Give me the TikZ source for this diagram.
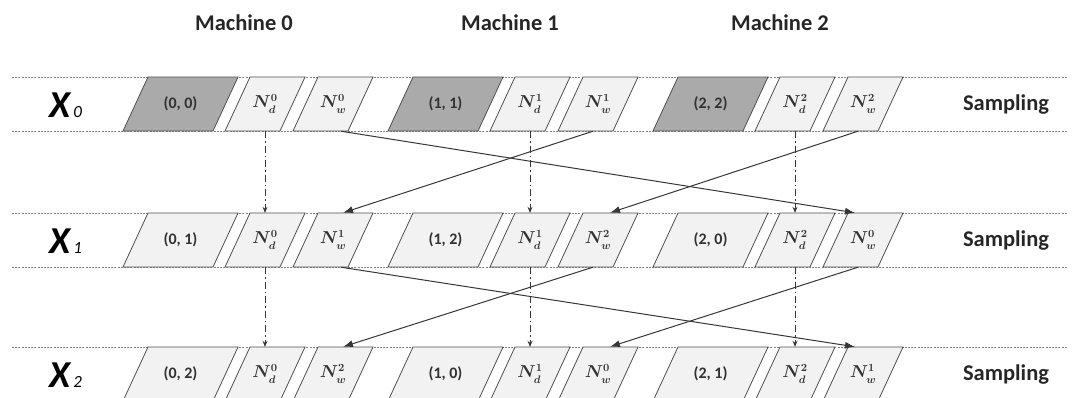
\documentclass[tikz,border=0pt]{standalone}
\usepackage{fontspec}
\setmainfont{Carlito}
\usetikzlibrary{arrows.meta}
\definecolor{darkfill}{RGB}{170,170,170}
\definecolor{lightfill}{RGB}{242,242,242}
\definecolor{edgecol}{RGB}{80,80,80}
\definecolor{txtcol}{RGB}{50,50,50}
\definecolor{arrcol}{RGB}{55,55,55}
\definecolor{guide}{RGB}{130,130,130}
\begin{document}
\begin{tikzpicture}[x=1pt,y=-1pt,
  pbox/.style={draw=none, minimum height=54pt, inner sep=0pt, text=txtcol,
    font=\fontsize{16}{16}\selectfont\bfseries\boldmath},
  guideline/.style={draw=guide, dash pattern=on 2pt off 1.2pt, line width=0.7pt},
  boxedge/.style={draw=edgecol, line width=0.8pt},
  swaparrow/.style={draw=arrcol, line width=1pt, -{Latex[length=10pt,width=7pt]}},
  keeparrow/.style={draw=arrcol, line width=0.9pt, dash pattern=on 7pt off 3pt on 1.5pt off 3pt,
    -{Stealth[length=6pt,width=5pt]}},
  headlabel/.style={anchor=base, font=\fontsize{22.5}{22.5}\selectfont\bfseries, text=black!85},
  rowlabel/.style={anchor=base west, text=black}
]
\useasboundingbox (0,0) rectangle (1072,397);

% machine headers
\node[headlabel] (h0) at (244,30) {Machine 0};
\node[headlabel] (h1) at (510,30) {Machine 1};
\node[headlabel] (h2) at (780,30) {Machine 2};

\foreach \r/\T in {0/77,1/213,2/347}{
  % band guide lines
  \draw[guideline] (12,\T) -- (1067,\T);
  \draw[guideline] (12,\T+54) -- (1067,\T+54);
  % row label and sampling
  \node[rowlabel] (x\r) at (46,\T+40)
    {\fontsize{38}{38}\selectfont\bfseries\itshape X\fontsize{17}{17}\selectfont\mdseries\itshape\,\r};
  \node[headlabel] (s\r) at (1006,\T+33) {Sampling};
  \foreach \m in {0,1,2}{
    \pgfmathsetmacro\B{123+265*\m}
    \pgfmathtruncatemacro\k{mod(\m+\r,3)}
    \ifnum\r=0 \def\fc{darkfill}\else\def\fc{lightfill}\fi
    % big box
    \draw[boxedge, fill=\fc] (\B,\T+54) -- (\B+90,\T+54) -- (\B+115,\T) -- (\B+25,\T) -- cycle;
    \node[pbox, minimum width=90pt] (a\r\m) at (\B+57.5,\T+27) {(\m, \k)};
    % N_d box
    \draw[boxedge, fill=lightfill] (\B+102,\T+54) -- (\B+157,\T+54) -- (\B+182,\T) -- (\B+127,\T) -- cycle;
    \node[pbox, minimum width=55pt] (d\r\m) at (\B+142,\T+27) {$N_d^{\m}$};
    % N_w box
    \draw[boxedge, fill=lightfill] (\B+170,\T+54) -- (\B+225,\T+54) -- (\B+250,\T) -- (\B+195,\T) -- cycle;
    \node[pbox, minimum width=55pt] (w\r\m) at (\B+210,\T+27) {$N_w^{\k}$};
  }
}

% connectors between rows
\foreach \r/\s in {0/1,1/2}{
  \foreach \m in {0,1,2}{
    \draw[keeparrow] (d\r\m.south) -- (d\s\m.north);
  }
  \draw[swaparrow] ([xshift=8pt]w\r0.south) -- ([xshift=-8pt]w\s2.north);
  \draw[swaparrow] ([xshift=-5pt]w\r1.south) -- ([xshift=10pt]w\s0.north);
  \draw[swaparrow] ([xshift=-5pt]w\r2.south) -- ([xshift=12pt]w\s1.north);
}
\end{tikzpicture}
\end{document}
